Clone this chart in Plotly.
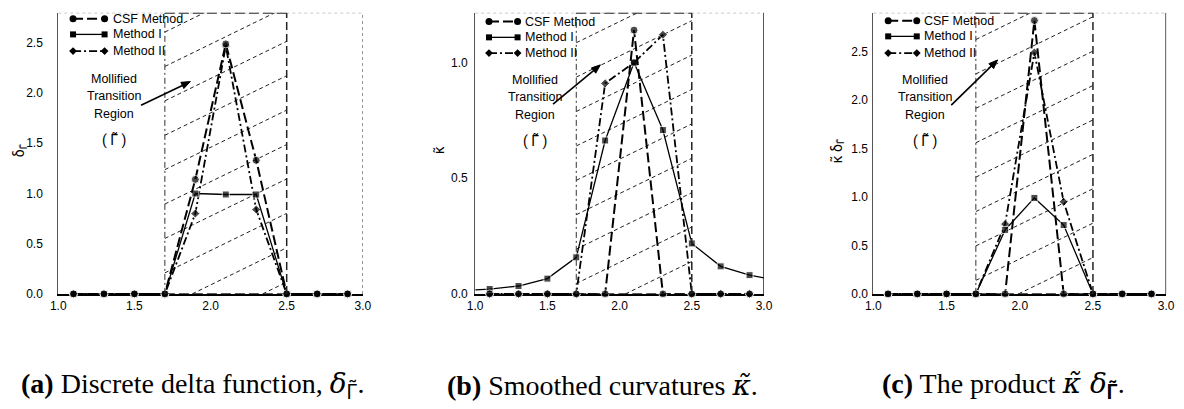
import math
import plotly.graph_objects as go

W, H = 1184, 409

# ---------------- data ----------------
x_grid = [1.1, 1.3, 1.5, 1.7, 1.9, 2.1, 2.3, 2.5, 2.7, 2.9]

# (a) discrete delta function
delta_csf = [0, 0, 0, 0, 1.14, 2.49, 1.33, 0, 0, 0]
delta_m1 = [0, 0, 0, 0, 1.00, 0.99, 0.99, 0, 0, 0]
delta_m2 = [0, 0, 0, 0, 0.80, 2.47, 0.84, 0, 0, 0]

# (b) smoothed curvature
kappa_csf = [0, 0, 0, 0, 0, 1.14, 0, 0, 0, 0]
kappa_m1_x = [1.0, 1.1, 1.3, 1.5, 1.7, 1.9, 2.1, 2.3, 2.5, 2.7, 2.9, 3.0]
kappa_m1 = [0.017, 0.021, 0.034, 0.066, 0.158, 0.663, 1.00, 0.708, 0.218, 0.119, 0.081, 0.069]
kappa_m2 = [0, 0, 0, 0, 0.91, 1.00, 1.12, 0, 0, 0]

# (c) product
prod_csf = [0, 0, 0, 0, 0, 2.82, 0, 0, 0, 0]
prod_m1 = [0, 0, 0, 0, 0.66, 0.99, 0.71, 0, 0, 0]
prod_m2 = [0, 0, 0, 0, 0.72, 2.49, 0.95, 0, 0, 0]

region = [1.7, 2.5]
x_ticks = [1.0, 1.5, 2.0, 2.5, 3.0]
series_names = ["CSF Method", "Method I", "Method II"]

MS = "font-family:DejaVu Serif"
RB = "font-family:Roboto"
captions = [
    f"<b>(a)</b> Discrete delta function, <span style='{MS}'><i>δ</i></span><sub><span style='{RB}'>Γ̃</span></sub>.",
    f"<b>(b)</b> Smoothed curvatures <span style='{MS}'><i>κ̃</i></span>.",
    f"<b>(c)</b> The product <span style='{MS}'><i>κ̃ δ</i></span><sub><span style='{RB}'><b>Γ̃</b></span></sub>.",
]
ylabels = ["δ<sub>Γ̃</sub>", "κ̃", "κ̃ δ<sub>Γ̃</sub>"]

# ---------------- layout geometry (pixels) ----------------
panels = [
    dict(x0=51, x1=360, ymax=2.8, yt=[0, 0.5, 1.0, 1.5, 2.0, 2.5], tl=12, right_dash="dot", right_col="#777",
         hatch_phase=0.117, leg=(66, 98, 105, [19, 35, 52]), txt=(108, [80, 98, 116, 142]),
         arrow=((185, 83), (135, 107)), ylab=(13, 153)),
    dict(x0=474, x1=767, ymax=1.215, yt=[0, 0.5, 1.0], tl=4, right_dash="solid", right_col="#222",
         hatch_phase=0.14, leg=(488, 517, 523, [22, 38, 54]), txt=(535, [81, 99, 117, 143]),
         arrow=((601, 66), (553, 106)), ylab=(438, 153)),
    dict(x0=878, x1=1175, ymax=2.9, yt=[0, 0.5, 1.0, 1.5, 2.0, 2.5], tl=2, right_dash="solid", right_col="#222",
         hatch_phase=0.02, leg=(893, 922, 927, [21, 37, 54]), txt=(930, [81, 99, 117, 143]),
         arrow=((1004, 61), (957, 107)), ylab=(842, 153)),
]
y_top_px, y_bot_px = 13, 299
cap_x = [11, 443, 885]
cap_y = 392


def px(x):
    return x / W


def py(y):
    return 1 - y / H


fig = go.Figure()

styles = [
    dict(dash="10px,4px", width=2.0, symbol="circle", size=8),
    dict(dash="solid", width=1.3, symbol="square", size=7),
    dict(dash="8px,3px,2px,3px", width=1.8, symbol="diamond", size=7),
]

data_sets = [
    [(x_grid, delta_csf), (x_grid, delta_m1), (x_grid, delta_m2)],
    [(x_grid, kappa_csf), (kappa_m1_x, kappa_m1), (x_grid, kappa_m2)],
    [(x_grid, prod_csf), (x_grid, prod_m1), (x_grid, prod_m2)],
]

shapes = []
annotations = []

for i, p in enumerate(panels):
    k = i + 1
    xa = "x" if k == 1 else f"x{k}"
    ya = "y" if k == 1 else f"y{k}"
    xname = "xaxis" if k == 1 else f"xaxis{k}"
    yname = "yaxis" if k == 1 else f"yaxis{k}"
    fig.update_layout(**{
        xname: dict(domain=[px(p["x0"]), px(p["x1"])], range=[1.0, 3.0], anchor=ya,
                    tickvals=x_ticks, tickformat=".1f", showgrid=False, zeroline=False,
                    showline=True, linecolor="black", linewidth=2, ticks="", layer="below traces",
                    tickfont=dict(family="Liberation Sans", size=12, color="black")),
        yname: dict(domain=[py(y_bot_px), py(y_top_px)], range=[0, p["ymax"]], anchor=xa,
                    tickvals=p["yt"], tickformat=".1f", showgrid=False, zeroline=False,
                    showline=True, linecolor="#555", linewidth=1, ticks="outside",
                    ticklen=p["tl"], tickcolor="rgba(0,0,0,0)", layer="below traces",
                    tickfont=dict(family="Liberation Sans", size=12, color="black")),
    })

    # hatched mollified region
    ymax = p["ymax"]
    ppx = (p["x1"] - p["x0"]) / 2.0
    ppy = (y_bot_px - y_top_px) / ymax
    slope = 0.49 * ppx / ppy
    spacing = 35 / ppy
    xa0, xa1 = region
    shapes.append(dict(type="line", xref=xa, yref=ya, x0=xa0, x1=xa0, y0=0, y1=ymax,
                       line=dict(color="#333", width=1, dash="6px,3px,2px,3px")))
    shapes.append(dict(type="line", xref=xa, yref=ya, x0=xa1, x1=xa1, y0=0, y1=ymax,
                       line=dict(color="#222", width=1.5, dash="8px,4px")))
    shapes.append(dict(type="line", xref=xa, yref=ya, x0=xa0, x1=xa1, y0=ymax, y1=ymax,
                       line=dict(color="#222", width=2, dash="10px,4px")))
    shapes.append(dict(type="line", xref=xa, yref=ya, x0=xa0, x1=xa1, y0=0, y1=0,
                       line=dict(color="#222", width=1.5, dash="10px,4px")))
    shapes.append(dict(type="line", xref=xa, yref=ya, x0=1.0, x1=3.0, y0=ymax, y1=ymax,
                       line=dict(color="#888", width=1, dash="dot")))
    shapes.append(dict(type="line", xref=xa, yref=ya, x0=3.0, x1=3.0, y0=0, y1=ymax,
                       line=dict(color=p["right_col"], width=1.5, dash=p["right_dash"])))
    rise = slope * (xa1 - xa0)
    c = p["hatch_phase"] - rise
    while c > -rise:
        c -= spacing
    while c < ymax:
        xs = xa0
        ys = c
        if ys < 0:
            xs = xa0 + (0 - c) / slope
            ys = 0
        xe = xa1
        ye = c + rise
        if ye > ymax:
            xe = xa0 + (ymax - c) / slope
            ye = ymax
        if xs < xe and ys < ymax:
            shapes.append(dict(type="line", xref=xa, yref=ya, x0=xs, x1=xe, y0=ys, y1=ye,
                               layer="below", line=dict(color="#222", width=1, dash="4px,3px")))
        c += spacing

    # data traces: Method II, Method I, CSF (CSF on top)
    for j in [2, 1, 0]:
        xs_, ys_ = data_sets[i][j]
        st = styles[j]
        sizes = [st["size"] if 1.0 < xv < 3.0 else 0 for xv in xs_]
        fig.add_trace(go.Scatter(
            x=xs_, y=ys_, mode="lines+markers", xaxis=xa, yaxis=ya, showlegend=False,
            name=series_names[j], cliponaxis=False,
            line=dict(color="black", width=st["width"], dash=st["dash"]),
            marker=dict(symbol=st["symbol"], size=sizes, color="black")))

    # custom legend (pixel overlay axes)
    lx0, lx1, ltx, lrows = p["leg"]
    for j in range(3):
        st = styles[j]
        fig.add_trace(go.Scatter(
            x=[lx0, lx1], y=[lrows[j], lrows[j]], xaxis="x4", yaxis="y4", mode="lines+markers",
            showlegend=False, hoverinfo="skip",
            line=dict(color="black", width=st["width"], dash=st["dash"]),
            marker=dict(symbol=st["symbol"], size=st["size"] - 1, color="black")))
        annotations.append(dict(x=px(ltx), y=py(lrows[j]), xref="paper", yref="paper",
                                text=series_names[j], showarrow=False, xanchor="left", yanchor="middle",
                                font=dict(family="Liberation Sans", size=12.5, color="black")))

    # region label
    tx, tys = p["txt"]
    for n, (line_txt, ty) in enumerate(zip(["Mollified", "Transition", "Region", "( Γ̃ )"], tys)):
        annotations.append(dict(x=px(tx), y=py(ty), xref="paper", yref="paper", text=line_txt,
                                showarrow=False, xanchor="center", yanchor="middle",
                                font=dict(family="Liberation Sans" if n < 3 else "Roboto",
                                          size=12.5 if n < 3 else 14, color="black")))
    # arrow drawn as line + triangular head (pixel-mapped paper coords)
    (hx, hy), (tx0, ty0) = p["arrow"]
    ang = math.atan2(hy - ty0, hx - tx0)
    L, Wd = 9, 3.5
    bx, by = hx - L * math.cos(ang), hy - L * math.sin(ang)
    lx_, ly_ = bx + Wd * math.sin(ang), by - Wd * math.cos(ang)
    rx_, ry_ = bx - Wd * math.sin(ang), by + Wd * math.cos(ang)
    shapes.append(dict(type="line", xref="paper", yref="paper", x0=px(tx0), y0=py(ty0), x1=px(bx), y1=py(by),
                       line=dict(color="black", width=1.6)))
    shapes.append(dict(type="path", xref="paper", yref="paper",
                       path=f"M {px(hx)} {py(hy)} L {px(lx_)} {py(ly_)} L {px(rx_)} {py(ry_)} Z",
                       fillcolor="black", line=dict(color="black", width=1)))
    # y label
    lx, ly = p["ylab"]
    annotations.append(dict(x=px(lx), y=py(ly), xref="paper", yref="paper", text=ylabels[i],
                            showarrow=False, textangle=-90, xanchor="center", yanchor="middle",
                            font=dict(family="Roboto", size=14, color="black")))

# captions
for cx, ct in zip(cap_x, captions):
    annotations.append(dict(x=px(cx), y=py(cap_y), xref="paper", yref="paper", text=ct,
                            showarrow=False, xanchor="left", yanchor="middle",
                            font=dict(family="Liberation Serif", size=28, color="black")))

fig.update_layout(
    xaxis4=dict(domain=[0, 1], range=[0, W], visible=False, anchor="y4", fixedrange=True),
    yaxis4=dict(domain=[0, 1], range=[H, 0], visible=False, anchor="x4", fixedrange=True),
)

fig.update_layout(width=W, height=H, margin=dict(l=0, r=0, t=0, b=0),
                  paper_bgcolor="white", plot_bgcolor="rgba(0,0,0,0)",
                  shapes=shapes, annotations=annotations, showlegend=False)

fig.write_html("out.html")
